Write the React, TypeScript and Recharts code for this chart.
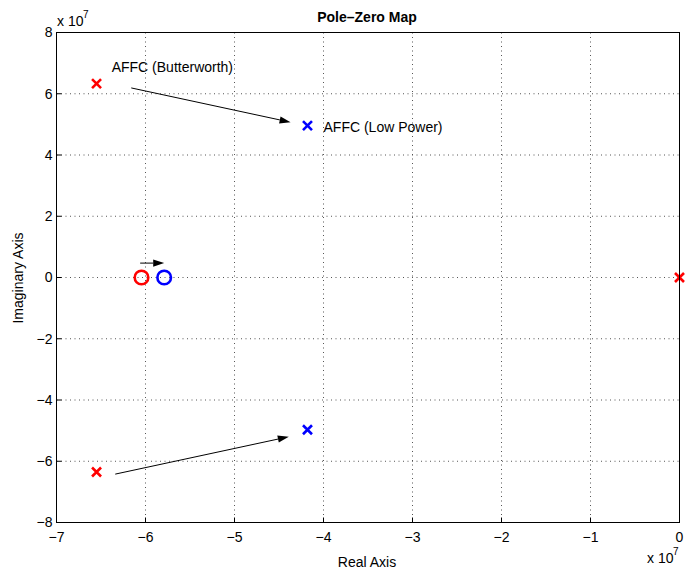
// Pole-zero map: AFFC Butterworth vs low-power design, values in units of 1e7.
import {
  CartesianGrid,
  ReferenceDot,
  ReferenceLine,
  Scatter,
  ScatterChart,
  XAxis,
  YAxis,
} from "recharts";

const xTicks = [-7, -6, -5, -4, -3, -2, -1, 0];
const yTicks = [-8, -6, -4, -2, 0, 2, 4, 6, 8];

const butterPoles = [
  { x: -6.55, y: 6.33 },
  { x: -6.55, y: -6.35 },
  { x: 0, y: 0 },
];
const lowPowerPoles = [
  { x: -4.18, y: 4.96 },
  { x: -4.18, y: -4.97 },
];
const butterZeros = [{ x: -6.045, y: 0 }];
const lowPowerZeros = [{ x: -5.79, y: 0 }];

// arrows from the Butterworth design to the low-power one
const arrows = [
  { from: { x: -6.16, y: 6.19 }, to: { x: -4.37, y: 5.07 } },
  { from: { x: -6.34, y: -6.42 }, to: { x: -4.39, y: -5.2 } },
  { from: { x: -6.06, y: 0.47 }, to: { x: -5.79, y: 0.47 } },
];

const notes = [
  { x: -6.38, y: 6.86, text: "AFFC (Butterworth)" },
  { x: -4.0, y: 4.9, text: "AFFC (Low Power)" },
];

const FONT = "'Liberation Sans', Arial, Helvetica, sans-serif";
const fmt = (v: number) => String(v).replace("-", "\u2212");

const Cross = (color: string) => (p: any) => {
  const { cx, cy } = p;
  const s = 4.5;
  return (
    <path
      d={`M${cx - s},${cy - s}L${cx + s},${cy + s}M${cx - s},${cy + s}L${cx + s},${cy - s}`}
      stroke={color}
      strokeWidth={2.6}
      fill="none"
    />
  );
};

const Ring = (color: string) => (p: any) => (
  <circle cx={p.cx} cy={p.cy} r={6.8} stroke={color} strokeWidth={2.6} fill="none" />
);

const Arrow = (p: any) => {
  const { x1, y1, x2, y2 } = p;
  const a = Math.atan2(y2 - y1, x2 - x1);
  const len = 11;
  const hw = 3.6;
  const bx = x2 - len * Math.cos(a);
  const by = y2 - len * Math.sin(a);
  const nx = -Math.sin(a) * hw;
  const ny = Math.cos(a) * hw;
  return (
    <g>
      <line x1={x1} y1={y1} x2={bx} y2={by} stroke="#000" strokeWidth={1} />
      <polygon points={`${x2},${y2} ${bx + nx},${by + ny} ${bx - nx},${by - ny}`} fill="#000" />
    </g>
  );
};

const tickStyle = { fill: "#000", fontSize: 14, fontFamily: FONT };
const line = { stroke: "#000", strokeWidth: 1 };

export default function App() {
  return (
    <div style={{ position: "absolute", left: 0, top: 0, width: 686, height: 578, background: "#fff" }}>
      <ScatterChart width={686} height={578} margin={{ top: 32.5, right: 6.5, bottom: 0, left: 0 }}>
        <CartesianGrid stroke="#555" strokeDasharray="1 3.5" />
        <XAxis
          type="number"
          dataKey="x"
          domain={[-7, 0]}
          ticks={xTicks}
          interval={0}
          height={55.5}
          tickSize={-5}
          tickMargin={15}
          tickFormatter={fmt}
          tick={tickStyle}
          axisLine={line}
          tickLine={line}
        />
        <XAxis
          xAxisId="top"
          orientation="top"
          type="number"
          domain={[-7, 0]}
          ticks={xTicks}
          interval={0}
          height={0}
          tickSize={-5}
          tickFormatter={() => ""}
          axisLine={line}
          tickLine={line}
        />
        <YAxis
          type="number"
          dataKey="y"
          domain={[-8, 8]}
          ticks={yTicks}
          interval={0}
          width={56.5}
          tickSize={-5}
          tickMargin={9}
          tickFormatter={fmt}
          tick={tickStyle}
          axisLine={line}
          tickLine={line}
        />
        <YAxis
          yAxisId="right"
          orientation="right"
          type="number"
          domain={[-8, 8]}
          ticks={yTicks}
          interval={0}
          width={0}
          tickSize={-5}
          tickFormatter={() => ""}
          axisLine={line}
          tickLine={line}
        />
        {arrows.map((a, i) => (
          <ReferenceLine
            key={i}
            segment={[a.from, a.to]}
            shape={Arrow}
            ifOverflow="visible"
          />
        ))}
        {notes.map((n, i) => (
          <ReferenceDot
            key={i}
            x={n.x}
            y={n.y}
            ifOverflow="visible"
            shape={(p: any) => (
              <text x={p.cx} y={p.cy} dy="0.36em" fontSize={14} fontFamily={FONT} fill="#000">
                {n.text}
              </text>
            )}
          />
        ))}
        <Scatter data={butterZeros} shape={Ring("#ff0000")} isAnimationActive={false} />
        <Scatter data={lowPowerZeros} shape={Ring("#0000ff")} isAnimationActive={false} />
        <Scatter data={butterPoles} shape={Cross("#ff0000")} isAnimationActive={false} />
        <Scatter data={lowPowerPoles} shape={Cross("#0000ff")} isAnimationActive={false} />
      </ScatterChart>
      <svg
        width={686}
        height={578}
        style={{ position: "absolute", left: 0, top: 0, pointerEvents: "none" }}
        fontFamily={FONT}
      >
        {/* axes box */}
        <rect x={56.5} y={32.5} width={623} height={490} fill="none" stroke="#000" strokeWidth={1} />
        <text x={367} y={22} textAnchor="middle" fontSize={14} fontWeight="bold">
          Pole{"\u2013"}Zero Map
        </text>
        <text x={367} y={567} textAnchor="middle" fontSize={14}>
          Real Axis
        </text>
        <text x={23} y={278} textAnchor="middle" fontSize={14} transform="rotate(-90 23 278)">
          Imaginary Axis
        </text>
        <text x={57} y={26} fontSize={14}>x 10</text>
        <text x={83} y={18} fontSize={10}>7</text>
        <text x={647} y={563} fontSize={14}>x 10</text>
        <text x={673} y={555} fontSize={10}>7</text>
      </svg>
    </div>
  );
}
